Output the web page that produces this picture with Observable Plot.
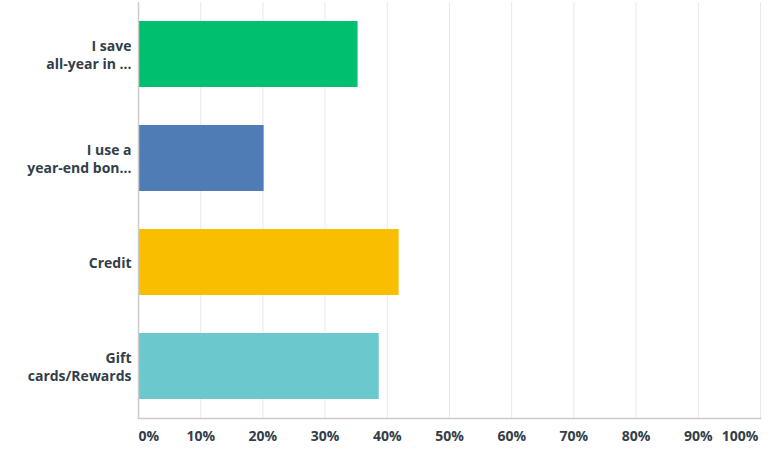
<!DOCTYPE html>
<html>
<head>
<meta charset="utf-8">
<script src="https://cdn.jsdelivr.net/npm/d3@7"></script>
<script src="https://cdn.jsdelivr.net/npm/@observablehq/plot@0.6"></script>
<style>
  html, body { margin: 0; padding: 0; background: #fff; }
  #chart { width: 768px; height: 452px; }
</style>
</head>
<body>
<div id="chart"></div>
<script>
const categories = ["I save\nall-year in ...", "I use a\nyear-end bon...", "Credit", "Gift\ncards/Rewards"];
const values = [35.3, 20.2, 41.9, 38.7];
const colors = ["#00bf6f", "#507cb6", "#f9be00", "#6bc8cd"];
const middleTicks = [10, 20, 30, 40, 50, 60, 70, 80, 90];
const gridTicks = [10, 20, 30, 40, 50, 60, 70, 80, 90, 100];

const data = categories.map((c, i) => ({category: c, value: values[i], color: colors[i]}));
const textColor = "#333e48";
const font = "'Open Sans', Roboto, sans-serif";

const chart = Plot.plot({
  width: 768,
  height: 452,
  marginLeft: 138,
  marginRight: 8,
  marginTop: 2,
  marginBottom: 34,
  style: {fontFamily: font, background: "#fff"},
  x: {domain: [0, 100], axis: null},
  y: {domain: categories, axis: null, paddingInner: 0.365, paddingOuter: 0.1825},
  marks: [
    Plot.ruleX(gridTicks, {stroke: "#e9e9e9", strokeWidth: 1}),
    Plot.barX(data, {y: "category", x: "value", fill: "color"}),
    Plot.ruleX([0], {stroke: "#cccccc", strokeWidth: 1.5}),
    Plot.frame({anchor: "bottom", stroke: "#cccccc", strokeWidth: 1.5}),
    Plot.text(data, {
      y: "category", text: "category", frameAnchor: "left", dx: -7,
      textAnchor: "end", fontSize: 14, fontWeight: 700, fill: textColor, lineHeight: 1.3
    }),
    Plot.text(middleTicks, {
      x: d => d, text: d => d + "%", frameAnchor: "bottom", dy: 22,
      textAnchor: "middle", fontSize: 14, fontWeight: 700, fill: textColor
    }),
    Plot.text([0], {
      x: d => d, text: d => d + "%", frameAnchor: "bottom", dy: 22,
      textAnchor: "start", fontSize: 14, fontWeight: 700, fill: textColor
    }),
    Plot.text([100], {
      x: d => d, text: d => d + "%", frameAnchor: "bottom", dy: 22, dx: -2,
      textAnchor: "end", fontSize: 14, fontWeight: 700, fill: textColor
    })
  ]
});
document.getElementById("chart").appendChild(chart);
</script>
</body>
</html>
